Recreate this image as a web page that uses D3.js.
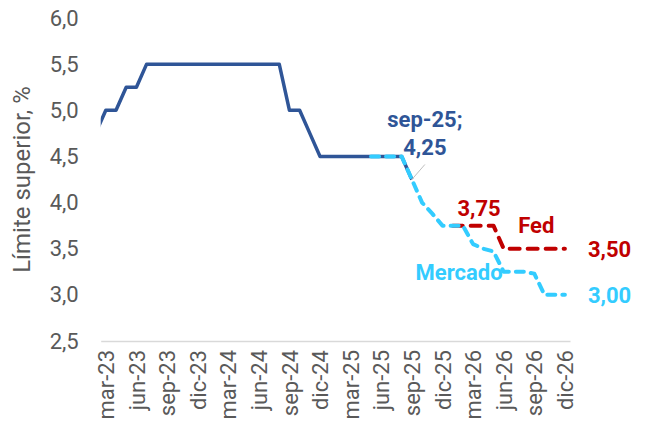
<!DOCTYPE html>
<html>
<head>
<meta charset="utf-8">
<script src="https://cdn.jsdelivr.net/npm/d3@7"></script>
<style>
  body { margin: 0; background: #fff; }
  svg text { font-family: Roboto, "Noto Sans", sans-serif; }
</style>
</head>
<body>
<div id="chart"></div>
<script>
// monthly categories, feb-23 .. dic-26
const months = [
  "feb-23","mar-23","abr-23","may-23","jun-23","jul-23","ago-23","sep-23","oct-23","nov-23","dic-23",
  "ene-24","feb-24","mar-24","abr-24","may-24","jun-24","jul-24","ago-24","sep-24","oct-24","nov-24","dic-24",
  "ene-25","feb-25","mar-25","abr-25","may-25","jun-25","jul-25","ago-25","sep-25","oct-25","nov-25","dic-25",
  "ene-26","feb-26","mar-26","abr-26","may-26","jun-26","jul-26","ago-26","sep-26","oct-26","nov-26","dic-26"
];

const tickLabels = ["mar-23","jun-23","sep-23","dic-23","mar-24","jun-24","sep-24","dic-24",
  "mar-25","jun-25","sep-25","dic-25","mar-26","jun-26","sep-26","dic-26"];

const yTicks = [2.5, 3.0, 3.5, 4.0, 4.5, 5.0, 5.5, 6.0];

// Fed funds upper bound, feb-23 .. sep-25
const histStart = "feb-23";
const histValues = [4.75, 5.0, 5.0, 5.25, 5.25,
  5.5, 5.5, 5.5, 5.5, 5.5, 5.5, 5.5, 5.5, 5.5, 5.5, 5.5, 5.5, 5.5, 5.5,
  5.0, 5.0, 4.75, 4.5,
  4.5, 4.5, 4.5, 4.5, 4.5, 4.5, 4.5, 4.5,
  4.25];

// market implied path, may-25 .. dic-26
const marketStart = "may-25";
const marketValues = [4.5, 4.5, 4.5, 4.5, 4.25, 4.0, 3.88, 3.75, 3.75, 3.75, 3.55, 3.5, 3.47,
  3.25, 3.25, 3.25, 3.23, 3.0, 3.0, 3.0];

// Fed projection, ene-26 .. dic-26
const fedStart = "ene-26";
const fedValues = [3.75, 3.75, 3.75, 3.75, 3.75, 3.5, 3.5, 3.5, 3.5, 3.5, 3.5, 3.5];

const toPoints = (start, vals) => vals.map((v, i) => ({i: months.indexOf(start) + i, v: v}));
const hist = toPoints(histStart, histValues);
const market = toPoints(marketStart, marketValues);
const fed = toPoints(fedStart, fedValues);

const es = d3.formatLocale({decimal: ",", thousands: ".", grouping: [3], currency: ["", "€"]});
const f1 = es.format(".1f");
const f2 = es.format(".2f");

const W = 652, H = 430;
const plot = {left: 100.7, right: 570, top: 18, bottom: 341};

const svg = d3.select("#chart").append("svg")
    .attr("width", W)
    .attr("height", H);

const x = d3.scaleLinear()
    .domain([0.5, months.length - 0.5])
    .range([plot.left, plot.right]);

const y = d3.scaleLinear()
    .domain([2.5, 6.0])
    .range([plot.bottom, plot.top]);

svg.append("clipPath").attr("id", "clip")
  .append("rect")
    .attr("x", plot.left)
    .attr("y", 0)
    .attr("width", plot.right - plot.left)
    .attr("height", H);

// y axis labels
const yAxis = svg.append("g")
    .attr("transform", `translate(${plot.left - 22},0)`)
    .call(d3.axisLeft(y).tickValues(yTicks).tickFormat(f1).tickSize(0).tickPadding(0));
yAxis.select(".domain").remove();
yAxis.selectAll("text")
    .attr("fill", "#595959")
    .style("font-size", "22px");

// x axis
const xAxis = svg.append("g")
    .attr("transform", `translate(0,${plot.bottom})`)
    .call(d3.axisBottom(x)
        .tickValues(tickLabels.map(l => months.indexOf(l)))
        .tickFormat(i => months[i])
        .tickSize(0));
xAxis.select(".domain").attr("stroke", "#D9D9D9").attr("stroke-width", 1.5);
xAxis.selectAll("text")
    .attr("fill", "#595959")
    .style("font-size", "22px")
    .attr("text-anchor", "end")
    .attr("transform", "rotate(-90)")
    .attr("x", -9)
    .attr("y", 0)
    .attr("dy", "0.35em");

// axis title
svg.append("text")
    .attr("transform", `translate(30,${(plot.top + plot.bottom) / 2}) rotate(-90)`)
    .attr("text-anchor", "middle")
    .attr("fill", "#595959")
    .style("font-size", "24px")
    .text("Límite superior, %");

const line = d3.line().x(d => x(d.i)).y(d => y(d.v));
const lines = svg.append("g").attr("clip-path", "url(#clip)");

lines.append("path")
    .datum(hist)
    .attr("d", line)
    .attr("fill", "none")
    .attr("stroke", "#2F5597")
    .attr("stroke-width", 3.5)
    .attr("stroke-linejoin", "round");

// Fed path sits under the market path
lines.append("path")
    .datum(fed)
    .attr("d", line)
    .attr("fill", "none")
    .attr("stroke", "#C00000")
    .attr("stroke-width", 4)
    .attr("stroke-dasharray", "10,8")
    .attr("stroke-linecap", "round")
    .attr("stroke-linejoin", "round");

lines.append("path")
    .datum(market)
    .attr("d", line)
    .attr("fill", "none")
    .attr("stroke", "#33CCFF")
    .attr("stroke-width", 4)
    .attr("stroke-dasharray", "8,7")
    .attr("stroke-linecap", "round")
    .attr("stroke-linejoin", "round");

// labels
const last = arr => arr[arr.length - 1];
const sep = last(hist);

svg.append("line")
    .attr("x1", x(sep.i) + 13).attr("y1", y(sep.v) - 15)
    .attr("x2", x(sep.i)).attr("y2", y(sep.v))
    .attr("stroke", "#BFBFBF")
    .attr("stroke-width", 1);

const lbl = svg.append("g")
    .style("font-size", "22px")
    .style("font-weight", "bold");

lbl.append("text")
    .attr("x", x(sep.i) + 13).attr("y", y(sep.v) - 53)
    .attr("text-anchor", "middle")
    .attr("fill", "#2F5597")
    .text(months[sep.i] + ";");
lbl.append("text")
    .attr("x", x(sep.i) + 13).attr("y", y(sep.v) - 25)
    .attr("text-anchor", "middle")
    .attr("fill", "#2F5597")
    .text(f2(sep.v));

const fed375 = fed[2];
lbl.append("text")
    .attr("x", x(fed375.i) + 6).attr("y", y(fed375.v) - 10)
    .attr("text-anchor", "middle")
    .attr("fill", "#C00000")
    .text(f2(fed375.v));

const fedName = fed[8];
lbl.append("text")
    .attr("x", x(fedName.i) + 2).attr("y", y(fedName.v) - 16)
    .attr("text-anchor", "middle")
    .attr("fill", "#C00000")
    .text("Fed");

lbl.append("text")
    .attr("x", x(last(fed).i) + 23).attr("y", y(last(fed).v) + 8)
    .attr("fill", "#C00000")
    .text(f2(last(fed).v));

lbl.append("text")
    .attr("x", x(last(market).i) + 23).attr("y", y(last(market).v) + 8)
    .attr("fill", "#33CCFF")
    .text(f2(last(market).v));

const mkName = market[10];
lbl.append("text")
    .attr("x", x(mkName.i) - 14).attr("y", y(mkName.v) + 36)
    .attr("text-anchor", "middle")
    .attr("fill", "#33CCFF")
    .text("Mercado");
</script>
</body>
</html>
